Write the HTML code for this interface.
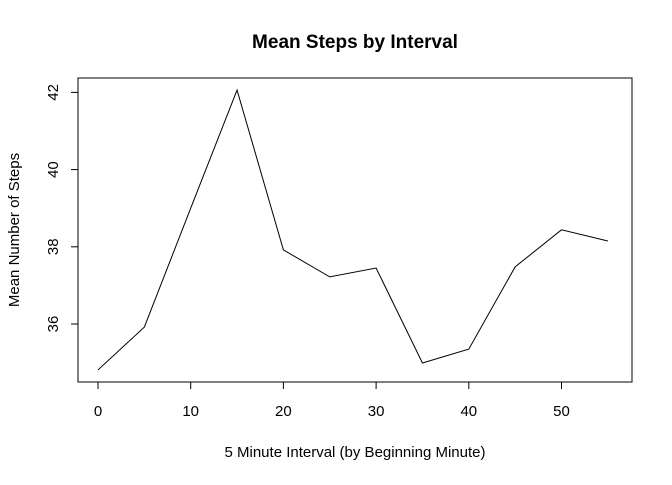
<!DOCTYPE html>
<html><head><meta charset="utf-8"><style>
body{margin:0;background:#fff}
svg text{font-family:"Liberation Sans",Arial,sans-serif;fill:#000}
</style></head><body>
<svg id="chart" width="672" height="480">
<text x="355" y="48" font-size="19" font-weight="bold" text-anchor="middle">Mean Steps by Interval</text>
<rect x="78" y="78" width="554" height="304" fill="none" stroke="#000"/>
<g id="xaxis"></g>
<g id="yaxis"></g>
<text x="355" y="457" font-size="15" text-anchor="middle">5 Minute Interval (by Beginning Minute)</text>
<text transform="translate(19,230) rotate(-90)" font-size="15" text-anchor="middle">Mean Number of Steps</text>
<path id="line" fill="none" stroke="#000" stroke-width="1"/>
</svg>
<script>
const intervals=[0,5,10,15,20,25,30,35,40,45,50,55];
const meanSteps=[34.81,35.92,39.0,42.06,37.92,37.22,37.45,34.99,35.35,37.48,38.44,38.15];
const xTicks=[0,10,20,30,40,50];
const yTicks=[36,38,40,42];
const ns="http://www.w3.org/2000/svg";
const xs=v=>98+v*9.27;
const ys=v=>324-(v-36)*38.6;
const xa=document.getElementById('xaxis'),ya=document.getElementById('yaxis');
function mk(t,a,p){const e=document.createElementNS(ns,t);for(const k in a)e.setAttribute(k,a[k]);p.appendChild(e);return e;}
mk('line',{x1:xs(xTicks[0]),x2:xs(xTicks[xTicks.length-1]),y1:382,y2:382,stroke:'#000'},xa);
xTicks.forEach(v=>{
 const l=mk('line',{x1:xs(v),x2:xs(v),y1:382,y2:389,stroke:'#000'},xa);
 
 
 const t=mk('text',{x:xs(v),y:416,'font-size':15,'text-anchor':'middle'},xa);t.textContent=v;
 
 
});
mk('line',{x1:78,x2:78,y1:ys(yTicks[0]),y2:ys(yTicks[yTicks.length-1]),stroke:'#000'},ya);
yTicks.forEach(v=>{
 const l=mk('line',{x1:71,x2:78,y1:ys(v),y2:ys(v),stroke:'#000'},ya);
 
 
 const t=mk('text',{transform:`translate(58,${ys(v)}) rotate(-90)`,'font-size':15,'text-anchor':'middle'},ya);t.textContent=v;
 
 
});
document.getElementById('line').setAttribute('d',intervals.map((x,i)=>(i?'L':'M')+xs(x)+','+ys(meanSteps[i])).join(''));
</script>
</body></html>
